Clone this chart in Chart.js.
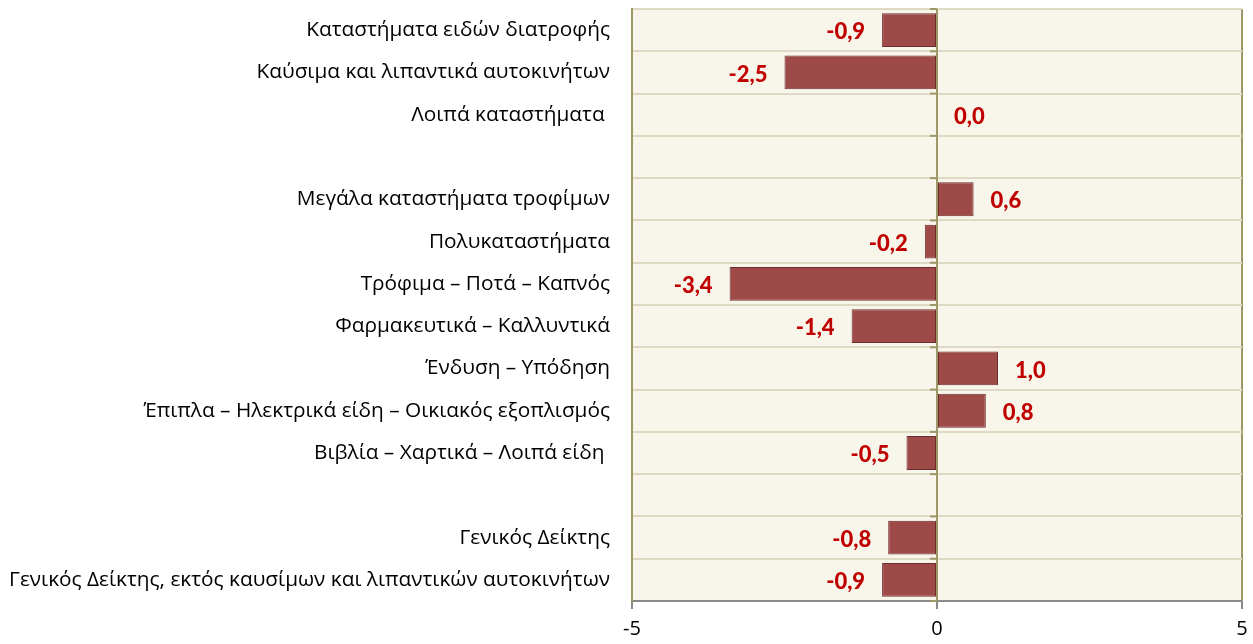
<!DOCTYPE html>
<html>
<head>
<meta charset="utf-8">
<script src="https://cdn.jsdelivr.net/npm/chart.js@4/dist/chart.umd.min.js"></script>
<style>
html,body{margin:0;padding:0;background:#fff;}
#wrap{width:1253px;height:644px;}
</style>
</head>
<body>
<div id="wrap"><canvas id="c" width="1253" height="644"></canvas></div>
<script>
const categories = [
  "Καταστήματα ειδών διατροφής",
  "Καύσιμα και λιπαντικά αυτοκινήτων",
  "Λοιπά καταστήματα ",
  "",
  "Μεγάλα καταστήματα τροφίμων",
  "Πολυκαταστήματα",
  "Τρόφιμα – Ποτά – Καπνός",
  "Φαρμακευτικά – Καλλυντικά",
  "Ένδυση – Υπόδηση",
  "Έπιπλα – Ηλεκτρικά είδη – Οικιακός εξοπλισμός",
  "Βιβλία – Χαρτικά – Λοιπά είδη ",
  "",
  "Γενικός Δείκτης",
  "Γενικός Δείκτης, εκτός καυσίμων και λιπαντικών αυτοκινήτων"
];
const values = [-0.9, -2.5, 0.0, null, 0.6, -0.2, -3.4, -1.4, 1.0, 0.8, -0.5, null, -0.8, -0.9];
const xMin = -5, xMax = 5, xStep = 5;

const plotBg = {
  id: 'plotBg',
  beforeDraw(chart) {
    const {ctx, chartArea: a} = chart;
    ctx.save();
    ctx.fillStyle = '#f8f6ea';
    ctx.fillRect(a.left, a.top, a.right - a.left, a.bottom - a.top);
    ctx.restore();
  }
};

const zeroTicks = {
  id: 'zeroTicks',
  afterDatasetsDraw(chart) {
    const {ctx} = chart;
    const xs = chart.scales.x, ys = chart.scales.y;
    const x0 = xs.getPixelForValue(0);
    const n = categories.length;
    const half = (ys.getPixelForTick(1) - ys.getPixelForTick(0)) / 2;
    ctx.save();
    ctx.strokeStyle = '#9c9868';
    ctx.lineWidth = 2;
    for (let i = 0; i <= n; i++) {
      const y = (i < n ? ys.getPixelForTick(i) - half : ys.getPixelForTick(n - 1) + half);
      ctx.beginPath();
      ctx.moveTo(x0 - 7, y);
      ctx.lineTo(x0, y);
      ctx.stroke();
    }
    ctx.beginPath();
    ctx.moveTo(x0, chart.chartArea.top);
    ctx.lineTo(x0, chart.chartArea.bottom);
    ctx.stroke();
    ctx.restore();
  }
};

const dataLabels = {
  id: 'dataLabels',
  afterDatasetsDraw(chart) {
    const {ctx} = chart;
    const meta = chart.getDatasetMeta(0);
    const xs = chart.scales.x;
    const x0 = xs.getPixelForValue(0);
    ctx.save();
    ctx.font = '900 22px Lato, "Open Sans", sans-serif';
    ctx.fillStyle = '#c00000';
    ctx.textBaseline = 'middle';
    meta.data.forEach((bar, i) => {
      const v = values[i];
      if (v === null || v === undefined) return;
      const txt = v.toFixed(1).replace('.', ',');
      const xe = xs.getPixelForValue(v);
      if (v < 0) {
        ctx.textAlign = 'right';
        ctx.fillText(txt, xe - 17, bar.y + 2);
      } else {
        ctx.textAlign = 'left';
        ctx.fillText(txt, Math.max(xe, x0) + 17, bar.y + 2);
      }
    });
    ctx.restore();
  }
};

new Chart(document.getElementById('c'), {
  type: 'bar',
  data: {
    labels: categories,
    datasets: [{
      data: values,
      backgroundColor: '#9e4a49',
      borderColor: '#6e2d2c',
      borderWidth: 1,
      borderSkipped: false,
      barPercentage: 0.8,
      categoryPercentage: 1.0
    }]
  },
  options: {
    indexAxis: 'y',
    responsive: false,
    animation: false,
    devicePixelRatio: 1,
    layout: { padding: { top: 9, right: 11, left: 0, bottom: 0 } },
    plugins: { legend: { display: false }, tooltip: { enabled: false } },
    scales: {
      x: {
        min: xMin, max: xMax,
        ticks: { stepSize: xStep, color: '#000', font: { family: '"Open Sans", sans-serif', size: 20 }, padding: 8,
          callback: (v) => String(v) },
        grid: { color: '#9c9868', lineWidth: 2, tickColor: '#8a8a8a', tickLength: 8, drawTicks: true },
        border: { color: '#8a8a8a', width: 2 },
        afterFit(s) { s.height = 43; s.paddingLeft = 0; s.paddingRight = 0; }
      },
      y: {
        ticks: { color: '#000', font: { family: '"Open Sans", sans-serif', size: 20.8 }, padding: 22, autoSkip: false },
        grid: { color: '#ddd9c2', lineWidth: 2, drawTicks: false, offset: true },
        border: { color: '#9c9868', width: 2 },
        afterFit(s) { s.width = 632; s.paddingTop = 0; s.paddingBottom = 0; }
      }
    }
  },
  plugins: [plotBg, zeroTicks, dataLabels]
});
</script>
</body>
</html>
